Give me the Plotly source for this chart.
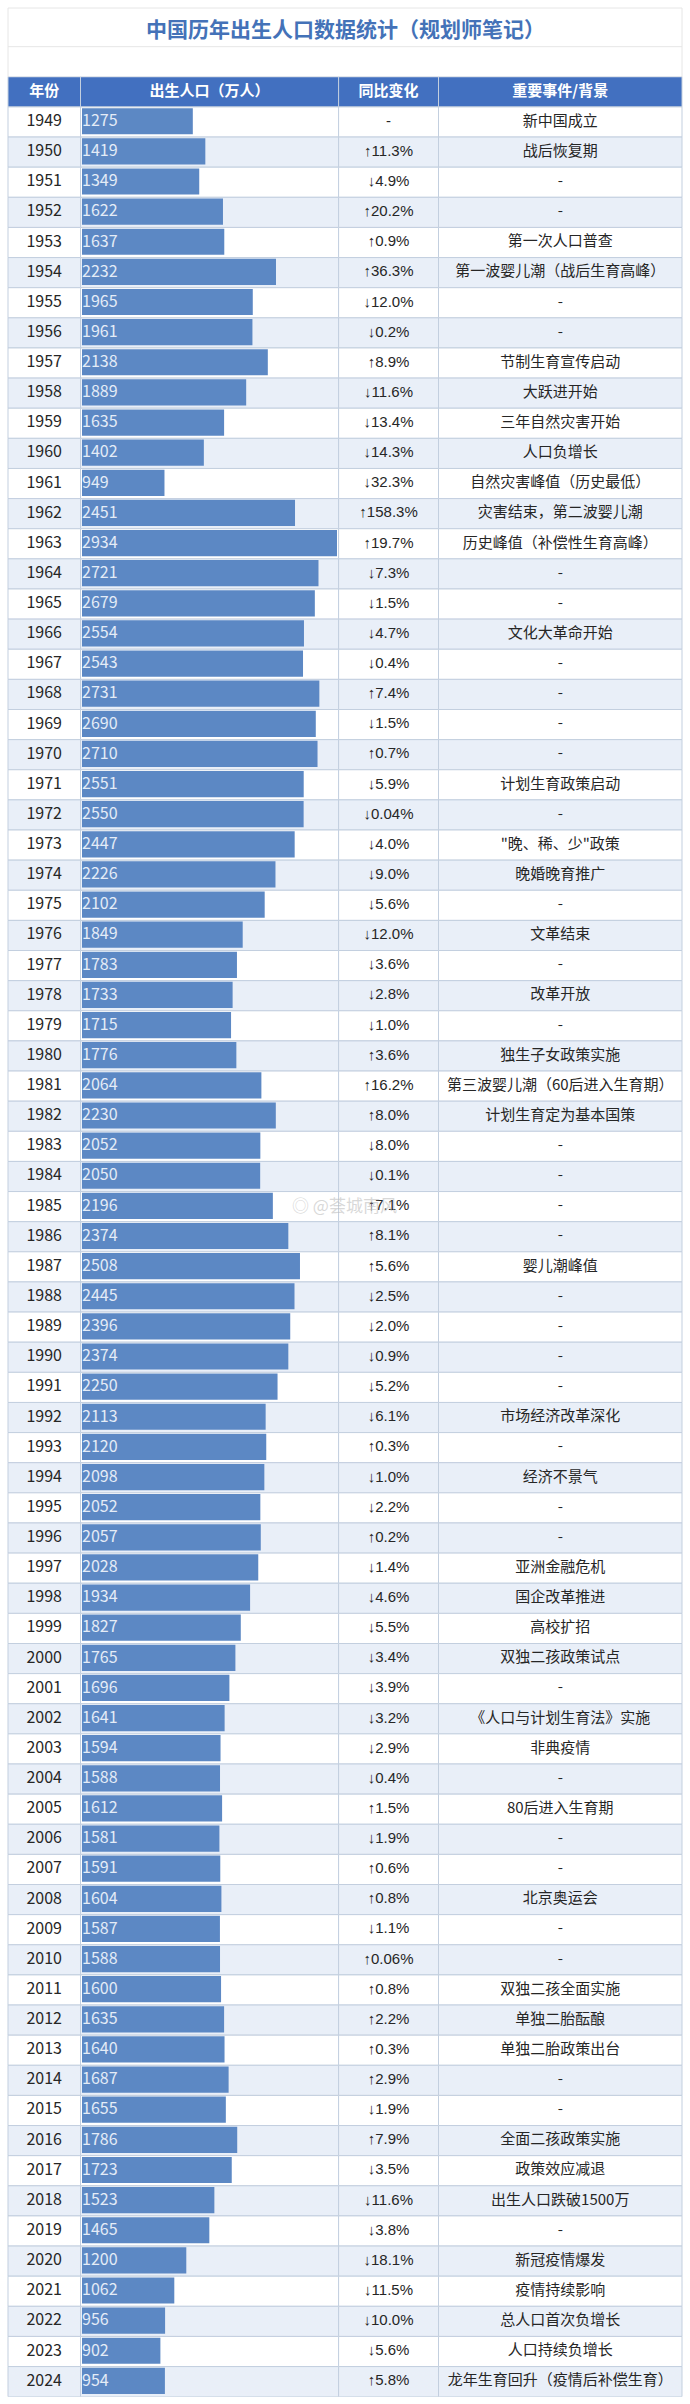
#!/usr/bin/env python3

import plotly.graph_objects as go

TITLE = '中国历年出生人口数据统计（规划师笔记）'
HEADERS = ['年份', '出生人口（万人）', '同比变化', '重要事件/背景']

YEARS = [
    '1949', '1950', '1951', '1952', '1953', '1954', '1955', '1956', '1957', '1958',
    '1959', '1960', '1961', '1962', '1963', '1964', '1965', '1966', '1967', '1968',
    '1969', '1970', '1971', '1972', '1973', '1974', '1975', '1976', '1977', '1978',
    '1979', '1980', '1981', '1982', '1983', '1984', '1985', '1986', '1987', '1988',
    '1989', '1990', '1991', '1992', '1993', '1994', '1995', '1996', '1997', '1998',
    '1999', '2000', '2001', '2002', '2003', '2004', '2005', '2006', '2007', '2008',
    '2009', '2010', '2011', '2012', '2013', '2014', '2015', '2016', '2017', '2018',
    '2019', '2020', '2021', '2022', '2023', '2024',
]
BIRTHS = [
    1275, 1419, 1349, 1622, 1637, 2232, 1965, 1961, 2138, 1889,
    1635, 1402, 949, 2451, 2934, 2721, 2679, 2554, 2543, 2731,
    2690, 2710, 2551, 2550, 2447, 2226, 2102, 1849, 1783, 1733,
    1715, 1776, 2064, 2230, 2052, 2050, 2196, 2374, 2508, 2445,
    2396, 2374, 2250, 2113, 2120, 2098, 2052, 2057, 2028, 1934,
    1827, 1765, 1696, 1641, 1594, 1588, 1612, 1581, 1591, 1604,
    1587, 1588, 1600, 1635, 1640, 1687, 1655, 1786, 1723, 1523,
    1465, 1200, 1062, 956, 902, 954,
]
CHANGES = [
    '-', '↑11.3%', '↓4.9%', '↑20.2%', '↑0.9%', '↑36.3%', '↓12.0%', '↓0.2%', '↑8.9%', '↓11.6%',
    '↓13.4%', '↓14.3%', '↓32.3%', '↑158.3%', '↑19.7%', '↓7.3%', '↓1.5%', '↓4.7%', '↓0.4%', '↑7.4%',
    '↓1.5%', '↑0.7%', '↓5.9%', '↓0.04%', '↓4.0%', '↓9.0%', '↓5.6%', '↓12.0%', '↓3.6%', '↓2.8%',
    '↓1.0%', '↑3.6%', '↑16.2%', '↑8.0%', '↓8.0%', '↓0.1%', '↑7.1%', '↑8.1%', '↑5.6%', '↓2.5%',
    '↓2.0%', '↓0.9%', '↓5.2%', '↓6.1%', '↑0.3%', '↓1.0%', '↓2.2%', '↑0.2%', '↓1.4%', '↓4.6%',
    '↓5.5%', '↓3.4%', '↓3.9%', '↓3.2%', '↓2.9%', '↓0.4%', '↑1.5%', '↓1.9%', '↑0.6%', '↑0.8%',
    '↓1.1%', '↑0.06%', '↑0.8%', '↑2.2%', '↑0.3%', '↑2.9%', '↓1.9%', '↑7.9%', '↓3.5%', '↓11.6%',
    '↓3.8%', '↓18.1%', '↓11.5%', '↓10.0%', '↓5.6%', '↑5.8%',
]
EVENTS = [
    '新中国成立', '战后恢复期', '-', '-', '第一次人口普查', '第一波婴儿潮（战后生育高峰）', '-', '-',
    '节制生育宣传启动', '大跃进开始', '三年自然灾害开始', '人口负增长', '自然灾害峰值（历史最低）',
    '灾害结束，第二波婴儿潮', '历史峰值（补偿性生育高峰）', '-', '-', '文化大革命开始', '-', '-', '-', '-',
    '计划生育政策启动', '-', '"晚、稀、少"政策', '晚婚晚育推广', '-', '文革结束', '-', '改革开放', '-',
    '独生子女政策实施', '第三波婴儿潮（60后进入生育期）', '计划生育定为基本国策', '-', '-', '-', '-',
    '婴儿潮峰值', '-', '-', '-', '-', '市场经济改革深化', '-', '经济不景气', '-', '-', '亚洲金融危机',
    '国企改革推进', '高校扩招', '双独二孩政策试点', '-', '《人口与计划生育法》实施', '非典疫情', '-',
    '80后进入生育期', '-', '-', '北京奥运会', '-', '-', '双独二孩全面实施', '单独二胎酝酿',
    '单独二胎政策出台', '-', '-', '全面二孩政策实施', '政策效应减退', '出生人口跌破1500万', '-',
    '新冠疫情爆发', '疫情持续影响', '总人口首次负增长', '人口持续负增长', '龙年生育回升（疫情后补偿生育）',
]

W, H = 690, 2404
FONT = 'Noto Sans CJK SC'
# narrow arrows, like the source image
CHANGE_FONT = 'Liberation Sans'
BLUE_HEAD = '#4270c0'
BLUE_BAR = '#5c88c4'
BLUE_TITLE = '#4472b8'
ROW_ALT = '#e9eff8'
GRID = '#c3cfdf'

# table column edges in page pixels, the table axis runs 0..W
EDGES = [8, 80.5, 338.6, 438.5, 682]
BAR_LEFT, BAR_RIGHT = 82, 337
TOP, BOTTOM = 76.8, 2396.7

rows = ['head'] + YEARS
centers = [(a + b) / 2 for a, b in zip(EDGES, EDGES[1:])]


def row_color(i: int) -> str:
    if i == 0:
        return BLUE_HEAD
    return 'white' if i % 2 == 1 else ROW_ALT


fig = go.Figure()

# the cells, one bar trace per column on the pixel axis
for left, right in zip(EDGES, EDGES[1:]):
    fig.add_trace(go.Bar(
        y=rows,
        x=[right - left] * len(rows),
        base=left,
        orientation='h',
        width=1,
        marker=dict(color=[row_color(i) for i in range(len(rows))], line=dict(color=GRID, width=1)),
        xaxis='x', yaxis='y', hoverinfo='skip',
    ))

for x, col, family, size in [
    (centers[0], YEARS, FONT, 16),
    (centers[2], CHANGES, CHANGE_FONT, 15),
    (centers[3], EVENTS, FONT, 15),
]:
    fig.add_trace(go.Scatter(
        y=YEARS,
        x=[x] * len(YEARS),
        text=col,
        mode='text',
        textposition='middle center',
        textfont=dict(family=family, size=size, color='#262626'),
        xaxis='x', yaxis='y', hoverinfo='skip',
    ))

fig.add_trace(go.Scatter(
    y=['head'] * len(HEADERS),
    x=centers,
    text=[f'<b>{h}</b>' for h in HEADERS],
    mode='text',
    textposition='middle center',
    textfont=dict(family=FONT, size=15, color='white'),
    xaxis='x', yaxis='y', hoverinfo='skip',
))

# the birth bars sit on their own value axis, drawn after the table
fig.add_trace(go.Bar(
    y=YEARS,
    x=BIRTHS,
    orientation='h',
    width=0.87,
    offset=-0.46,
    marker=dict(color=BLUE_BAR, line=dict(width=0)),
    xaxis='x2', yaxis='y',
))
fig.add_trace(go.Scatter(
    y=YEARS,
    x=[0] * len(YEARS),
    text=[str(v) for v in BIRTHS],
    mode='text',
    textposition='middle right',
    textfont=dict(family=FONT, size=16, color='#e4ecf7'),
    xaxis='x2', yaxis='y', hoverinfo='skip', cliponaxis=False,
))

fig.update_layout(
    width=W,
    height=H,
    margin=dict(l=0, r=0, t=0, b=0),
    paper_bgcolor='white',
    plot_bgcolor='rgba(0,0,0,0)',
    showlegend=False,
    barmode='overlay',
    xaxis=dict(range=[0, W], domain=[0, 1], visible=False, fixedrange=True),
    xaxis2=dict(
        range=[0, max(BIRTHS)],
        domain=[BAR_LEFT / W, BAR_RIGHT / W],
        anchor='y', visible=False, fixedrange=True,
    ),
    yaxis=dict(
        type='category',
        categoryorder='array',
        categoryarray=rows,
        range=[len(rows) - 0.5, -0.5],
        domain=[1 - BOTTOM / H, 1 - TOP / H],
        visible=False, fixedrange=True,
    ),
    shapes=[
        dict(type='rect', xref='paper', yref='paper', x0=8 / W, x1=682 / W, y0=1 - 77 / H, y1=1 - 8 / H,
             line=dict(color='#e6e6e6', width=1), fillcolor='white', layer='below'),
        dict(type='line', xref='paper', yref='paper', x0=8 / W, x1=682 / W, y0=1 - 46.7 / H, y1=1 - 46.7 / H,
             line=dict(color='#e6e6e6', width=1)),
    ],
    annotations=[
        dict(text=f'<b>{TITLE}</b>', xref='paper', yref='paper', x=0.5, y=1 - 28 / H,
             xanchor='center', yanchor='middle', showarrow=False,
             font=dict(family=FONT, size=21, color=BLUE_TITLE)),
        dict(text='◎ @荟城南风', xref='paper', yref='paper', x=344 / W, y=1 - 1204 / H,
             xanchor='center', yanchor='middle', showarrow=False,
             font=dict(family=FONT, size=17, color='rgba(190,190,190,0.6)')),
    ],
)

fig.write_html(
    'out.html',
    config=dict(displayModeBar=False),
    post_script="document.body.style.margin='0';",
)
